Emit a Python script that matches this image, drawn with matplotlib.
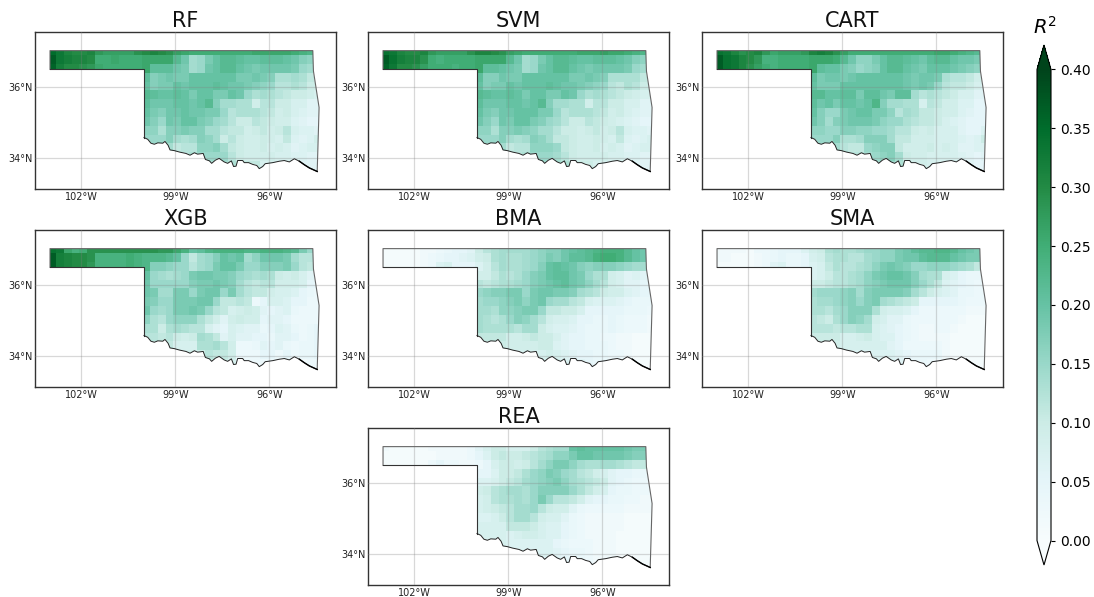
import matplotlib
matplotlib.use("Agg")
import matplotlib.pyplot as plt
import numpy as np
from matplotlib.colorbar import ColorbarBase
from matplotlib.colors import Normalize
from matplotlib.patches import Polygon

# R2 x 100 on a 0.25 degree grid, north to south.
# First three rows span the panhandle (35 cells), the others start at cell 12
rf = [
    [35, 33, 31, 30, 30, 31, 28, 27, 27, 27, 27, 29, 30, 31, 30, 29, 27, 26, 25, 25, 25, 25, 25, 25, 25, 25, 26, 26, 26, 26, 26, 25, 24, 23, 21],
    [37, 33, 32, 31, 31, 30, 25, 25, 26, 25, 25, 25, 26, 26, 26, 26, 22, 19, 14, 15, 18, 20, 22, 22, 21, 20, 20, 21, 21, 21, 20, 19, 17, 16, 15],
    [36, 32, 30, 30, 29, 28, 26, 25, 25, 25, 25, 25, 26, 21, 21, 21, 19, 18, 14, 15, 19, 20, 22, 22, 20, 19, 18, 19, 19, 19, 19, 18, 15, 14, 13],
    [21, 17, 18, 19, 18, 18, 20, 20, 20, 20, 20, 20, 18, 18, 19, 18, 17, 13, 13, 14, 13, 11, 11],
    [20, 17, 18, 18, 20, 19, 20, 20, 20, 21, 20, 19, 19, 18, 17, 16, 15, 12, 12, 13, 12, 10, 10],
    [22, 21, 20, 20, 21, 20, 18, 20, 20, 18, 18, 20, 19, 15, 13, 14, 13, 12, 11, 10, 10, 9, 8],
    [21, 19, 19, 19, 20, 20, 19, 20, 22, 17, 14, 14, 13, 13, 9, 12, 12, 10, 10, 8, 8, 6, 6],
    [20, 18, 17, 19, 19, 20, 19, 19, 18, 18, 15, 12, 13, 13, 13, 12, 11, 9, 10, 8, 7, 6, 6],
    [19, 17, 15, 19, 18, 20, 20, 18, 17, 15, 14, 12, 10, 10, 12, 11, 10, 9, 9, 7, 6, 5, 5],
    [16, 16, 13, 17, 17, 18, 17, 17, 14, 14, 12, 11, 11, 9, 10, 11, 9, 10, 12, 8, 7, 7, 6],
    [15, 15, 15, 17, 14, 13, 14, 17, 16, 14, 10, 12, 10, 9, 9, 10, 9, 8, 11, 7, 6, 7, 9],
    [15, 14, 14, 14, 11, 12, 12, 16, 16, 17, 14, 11, 10, 9, 9, 10, 8, 9, 8, 6, 7, 8, 8],
    [14, 14, 14, 13, 13, 12, 13, 15, 15, 15, 15, 12, 10, 9, 9, 9, 9, 8, 8, 7, 7, 6, 6],
    [14, 14, 14, 13, 13, 12, 13, 13, 13, 14, 14, 13, 11, 11, 11, 8, 8, 8, 7, 7, 6, 6, 6],
    [14, 14, 14, 13, 13, 12, 13, 13, 13, 14, 14, 13, 11, 11, 11, 8, 8, 8, 7, 7, 6, 6, 6],
]

svm = [
    [34, 33, 31, 30, 30, 31, 28, 27, 27, 27, 27, 29, 31, 31, 30, 29, 27, 26, 25, 25, 25, 25, 25, 25, 25, 26, 26, 26, 27, 26, 26, 25, 24, 23, 21],
    [37, 34, 32, 31, 31, 29, 25, 24, 25, 25, 25, 25, 26, 26, 26, 26, 22, 19, 14, 15, 18, 20, 22, 22, 21, 20, 20, 21, 21, 21, 20, 19, 17, 16, 15],
    [36, 33, 30, 30, 29, 27, 25, 25, 25, 24, 25, 25, 26, 21, 21, 20, 19, 18, 14, 15, 19, 20, 22, 22, 20, 19, 18, 19, 19, 19, 19, 18, 15, 14, 13],
    [21, 17, 17, 19, 18, 18, 20, 20, 20, 20, 20, 20, 18, 18, 19, 18, 17, 13, 13, 13, 13, 11, 11],
    [20, 17, 18, 18, 20, 19, 20, 20, 20, 21, 20, 19, 19, 18, 17, 16, 15, 12, 11, 13, 12, 10, 10],
    [22, 21, 20, 20, 21, 20, 18, 20, 20, 18, 18, 20, 19, 15, 13, 14, 13, 12, 11, 10, 9, 8, 8],
    [21, 19, 19, 19, 20, 20, 19, 20, 22, 17, 14, 14, 13, 13, 9, 12, 12, 10, 10, 8, 8, 6, 6],
    [20, 18, 17, 19, 19, 20, 20, 20, 18, 18, 15, 12, 13, 13, 13, 12, 11, 9, 10, 8, 7, 6, 6],
    [19, 17, 15, 19, 18, 20, 20, 18, 17, 15, 14, 12, 10, 10, 12, 11, 10, 9, 8, 7, 6, 5, 5],
    [16, 16, 13, 17, 17, 18, 17, 16, 14, 14, 12, 10, 10, 9, 10, 11, 9, 10, 12, 8, 7, 7, 6],
    [15, 15, 15, 17, 14, 13, 14, 17, 16, 14, 11, 11, 10, 9, 9, 10, 9, 8, 11, 7, 6, 7, 8],
    [15, 14, 14, 14, 11, 12, 12, 16, 16, 16, 15, 11, 10, 9, 9, 10, 8, 9, 8, 6, 7, 8, 8],
    [14, 14, 14, 13, 13, 12, 13, 15, 15, 15, 14, 12, 10, 9, 9, 9, 9, 8, 8, 7, 7, 6, 6],
    [14, 14, 14, 13, 13, 12, 13, 13, 14, 14, 14, 13, 11, 10, 10, 8, 8, 7, 7, 6, 6, 6, 6],
    [14, 14, 14, 13, 13, 12, 13, 13, 14, 14, 14, 13, 11, 10, 10, 8, 8, 7, 7, 6, 6, 6, 6],
]

cart = [
    [34, 33, 31, 29, 30, 31, 28, 26, 27, 27, 27, 28, 31, 32, 31, 29, 27, 25, 25, 25, 25, 25, 25, 25, 25, 25, 25, 25, 26, 26, 25, 24, 23, 22, 22],
    [37, 34, 33, 31, 30, 28, 24, 24, 25, 25, 25, 25, 26, 26, 26, 25, 22, 19, 16, 16, 18, 20, 22, 22, 21, 20, 19, 21, 22, 22, 20, 19, 19, 18, 17],
    [37, 34, 33, 31, 29, 27, 25, 24, 25, 25, 25, 25, 26, 21, 20, 20, 18, 17, 15, 16, 17, 20, 22, 22, 20, 19, 18, 20, 20, 20, 19, 18, 17, 16, 16],
    [21, 18, 19, 19, 18, 19, 20, 20, 20, 20, 20, 20, 19, 18, 19, 19, 18, 13, 12, 12, 11, 9, 9],
    [20, 18, 18, 18, 20, 20, 20, 20, 20, 20, 20, 20, 19, 18, 19, 18, 15, 12, 11, 11, 10, 8, 7],
    [22, 22, 20, 20, 21, 21, 18, 21, 21, 19, 18, 21, 21, 14, 12, 13, 12, 11, 10, 8, 8, 6, 6],
    [21, 19, 20, 18, 20, 20, 19, 20, 23, 17, 14, 14, 13, 13, 8, 12, 11, 9, 9, 7, 7, 5, 5],
    [20, 17, 15, 15, 18, 19, 20, 20, 18, 18, 16, 12, 14, 13, 11, 11, 10, 9, 9, 7, 6, 5, 5],
    [19, 17, 14, 17, 18, 19, 19, 19, 18, 16, 15, 15, 13, 12, 11, 11, 10, 8, 7, 6, 5, 5, 5],
    [16, 16, 15, 15, 17, 17, 16, 16, 15, 15, 14, 12, 12, 10, 9, 10, 8, 8, 8, 6, 5, 5, 7],
    [15, 15, 15, 17, 13, 13, 14, 17, 17, 17, 14, 11, 11, 9, 9, 9, 8, 8, 8, 7, 6, 7, 10],
    [15, 14, 14, 14, 12, 11, 11, 15, 16, 17, 17, 11, 9, 9, 9, 10, 8, 9, 8, 6, 6, 7, 7],
    [14, 14, 14, 13, 12, 12, 12, 14, 15, 16, 17, 14, 10, 9, 9, 8, 8, 8, 8, 7, 6, 5, 6],
    [14, 14, 14, 13, 12, 12, 12, 13, 14, 15, 15, 13, 11, 9, 9, 8, 8, 7, 7, 6, 6, 5, 5],
    [14, 14, 14, 13, 12, 12, 12, 13, 14, 15, 15, 13, 11, 9, 9, 8, 8, 7, 7, 6, 6, 5, 5],
]

xgb = [
    [34, 33, 26, 24, 25, 29, 29, 29, 29, 29, 29, 29, 29, 29, 28, 28, 26, 24, 20, 21, 23, 24, 24, 24, 24, 23, 23, 24, 24, 24, 23, 22, 18, 15, 15],
    [37, 32, 31, 30, 30, 29, 24, 24, 24, 24, 25, 24, 23, 23, 23, 22, 20, 15, 11, 14, 15, 17, 20, 19, 20, 14, 16, 19, 19, 19, 18, 14, 12, 12, 12],
    [37, 32, 31, 30, 30, 28, 24, 24, 24, 24, 25, 24, 23, 17, 17, 16, 15, 15, 12, 14, 15, 18, 20, 20, 18, 15, 15, 17, 17, 17, 18, 15, 12, 11, 10],
    [20, 15, 14, 13, 14, 15, 18, 19, 19, 18, 18, 17, 15, 14, 13, 14, 13, 10, 9, 10, 8, 6, 6],
    [19, 15, 15, 15, 15, 15, 17, 18, 18, 19, 18, 17, 14, 12, 11, 12, 12, 9, 9, 9, 8, 5, 5],
    [19, 18, 14, 14, 18, 18, 15, 18, 19, 19, 15, 18, 14, 12, 11, 11, 9, 8, 8, 7, 5, 4, 3],
    [18, 17, 15, 15, 18, 18, 18, 19, 19, 15, 11, 11, 12, 11, 3, 5, 8, 8, 7, 5, 5, 3, 3],
    [19, 15, 14, 15, 18, 18, 19, 18, 15, 12, 11, 8, 9, 10, 9, 6, 5, 6, 7, 4, 3, 3, 3],
    [16, 13, 12, 15, 16, 16, 16, 13, 11, 9, 6, 9, 10, 9, 9, 5, 6, 6, 5, 3, 3, 3, 3],
    [13, 13, 10, 13, 14, 13, 12, 12, 8, 6, 5, 8, 7, 6, 6, 4, 5, 7, 6, 4, 3, 4, 5],
    [12, 12, 11, 12, 10, 9, 10, 14, 13, 11, 6, 8, 6, 6, 5, 5, 4, 6, 6, 5, 3, 4, 5],
    [12, 11, 10, 11, 8, 8, 8, 13, 13, 14, 12, 9, 3, 3, 4, 6, 5, 6, 4, 3, 4, 4, 5],
    [10, 10, 10, 10, 9, 9, 9, 10, 12, 11, 11, 9, 3, 3, 3, 5, 5, 3, 5, 3, 4, 4, 5],
    [10, 10, 10, 10, 9, 9, 9, 10, 10, 10, 10, 8, 3, 3, 3, 3, 3, 3, 3, 2, 2, 3, 3],
    [10, 10, 10, 10, 9, 9, 9, 10, 10, 10, 10, 8, 3, 3, 3, 3, 3, 3, 3, 2, 2, 3, 3],
]

bma = [
    [1, 1, 1, 1, 1, 2, 2, 3, 4, 5, 5, 6, 10, 12, 13, 14, 14, 14, 14, 15, 16, 17, 17, 19, 20, 21, 22, 23, 24, 24, 24, 22, 20, 19, 19],
    [1, 1, 1, 1, 1, 2, 3, 4, 5, 5, 6, 7, 9, 10, 13, 14, 13, 13, 14, 15, 16, 18, 17, 19, 21, 21, 22, 24, 25, 25, 24, 22, 20, 19, 19],
    [1, 1, 1, 1, 1, 2, 3, 7, 8, 5, 5, 5, 7, 9, 12, 14, 13, 13, 14, 15, 17, 20, 21, 20, 19, 17, 16, 17, 17, 17, 16, 15, 14, 14, 13],
    [9, 9, 11, 13, 12, 13, 15, 17, 18, 20, 21, 21, 19, 18, 15, 13, 13, 9, 8, 6, 7, 6, 6],
    [12, 11, 12, 13, 13, 14, 15, 17, 18, 19, 20, 21, 19, 18, 16, 14, 12, 9, 8, 6, 6, 5, 5],
    [15, 16, 17, 17, 18, 18, 15, 18, 19, 19, 18, 18, 17, 14, 13, 12, 10, 9, 9, 7, 6, 5, 5],
    [14, 15, 15, 16, 17, 18, 16, 18, 19, 15, 14, 14, 12, 11, 8, 7, 7, 7, 6, 5, 4, 4, 4],
    [14, 14, 13, 16, 16, 17, 18, 18, 15, 11, 11, 10, 10, 8, 5, 5, 5, 5, 5, 4, 4, 4, 3],
    [14, 13, 12, 13, 15, 17, 16, 14, 12, 9, 8, 8, 7, 5, 5, 4, 4, 5, 4, 3, 3, 3, 2],
    [14, 13, 13, 13, 13, 12, 14, 14, 10, 8, 7, 7, 6, 5, 4, 4, 4, 5, 4, 3, 3, 3, 2],
    [11, 11, 11, 11, 9, 9, 10, 11, 10, 10, 8, 6, 5, 5, 4, 4, 3, 3, 2, 2, 1, 1, 1],
    [10, 10, 10, 10, 9, 9, 9, 9, 10, 10, 7, 6, 5, 5, 4, 4, 4, 3, 2, 2, 1, 1, 1],
    [10, 10, 10, 9, 9, 8, 8, 8, 8, 9, 8, 7, 6, 5, 5, 4, 4, 3, 3, 2, 1, 1, 1],
    [9, 9, 9, 9, 8, 8, 8, 8, 8, 8, 8, 7, 7, 6, 5, 4, 4, 3, 2, 2, 1, 1, 1],
    [9, 9, 9, 9, 8, 8, 8, 8, 8, 8, 8, 7, 7, 6, 5, 4, 4, 3, 2, 2, 1, 1, 1],
]

sma = [
    [2, 2, 2, 2, 1, 3, 3, 4, 5, 5, 5, 7, 9, 10, 13, 14, 13, 13, 14, 15, 15, 16, 16, 18, 19, 21, 22, 22, 23, 23, 22, 20, 19, 18, 18],
    [2, 2, 1, 1, 1, 2, 3, 4, 5, 4, 4, 5, 8, 9, 12, 13, 13, 12, 12, 14, 15, 16, 16, 18, 19, 19, 21, 22, 22, 22, 20, 19, 18, 18, 18],
    [1, 1, 1, 1, 1, 2, 3, 6, 7, 4, 4, 5, 7, 8, 11, 13, 12, 12, 13, 14, 16, 18, 19, 18, 17, 15, 15, 16, 16, 16, 15, 14, 13, 11, 11],
    [7, 8, 10, 12, 12, 13, 14, 16, 18, 19, 20, 20, 19, 17, 14, 13, 13, 8, 7, 5, 4, 4, 4],
    [10, 10, 11, 12, 12, 13, 14, 16, 17, 18, 19, 19, 19, 17, 15, 13, 11, 7, 6, 5, 4, 3, 3],
    [14, 15, 15, 15, 16, 17, 14, 17, 18, 18, 18, 18, 17, 14, 12, 10, 8, 7, 6, 4, 4, 3, 3],
    [13, 14, 14, 15, 16, 17, 15, 17, 18, 14, 13, 12, 11, 10, 5, 5, 5, 5, 5, 4, 3, 3, 3],
    [13, 13, 12, 14, 15, 17, 17, 17, 13, 9, 8, 8, 7, 5, 3, 3, 3, 3, 3, 3, 2, 2, 2],
    [12, 11, 10, 13, 15, 17, 16, 14, 9, 8, 6, 6, 4, 3, 3, 3, 3, 3, 3, 2, 1, 1, 1],
    [12, 12, 12, 11, 12, 12, 13, 13, 8, 7, 6, 5, 4, 3, 2, 2, 3, 3, 2, 1, 1, 1, 1],
    [10, 10, 10, 10, 8, 8, 9, 10, 8, 7, 7, 5, 4, 3, 2, 2, 2, 2, 1, 1, 1, 1, 1],
    [9, 9, 9, 9, 8, 8, 8, 8, 8, 8, 6, 5, 3, 3, 3, 3, 3, 2, 1, 1, 1, 1, 1],
    [8, 8, 8, 8, 8, 7, 7, 7, 7, 7, 7, 6, 5, 4, 4, 4, 4, 2, 1, 1, 1, 1, 1],
    [8, 8, 8, 8, 7, 7, 7, 7, 7, 7, 7, 6, 5, 4, 4, 3, 2, 2, 1, 1, 1, 1, 1],
    [8, 8, 8, 8, 7, 7, 7, 7, 7, 7, 7, 6, 5, 4, 4, 3, 2, 2, 1, 1, 1, 1, 1],
]

rea = [
    [2, 1, 1, 1, 1, 1, 2, 2, 2, 2, 2, 3, 6, 8, 10, 10, 8, 8, 8, 10, 12, 13, 14, 14, 20, 21, 20, 20, 20, 20, 20, 19, 18, 18, 17],
    [1, 1, 1, 1, 1, 1, 1, 2, 2, 2, 2, 3, 5, 7, 10, 11, 10, 10, 11, 12, 13, 14, 16, 16, 18, 20, 20, 19, 19, 19, 19, 18, 17, 17, 17],
    [1, 1, 1, 1, 1, 1, 3, 5, 3, 3, 2, 2, 3, 5, 8, 10, 10, 9, 10, 12, 14, 16, 18, 18, 16, 14, 13, 13, 14, 14, 13, 12, 11, 11, 9],
    [5, 5, 7, 10, 10, 11, 13, 15, 16, 18, 17, 15, 14, 12, 11, 9, 8, 6, 5, 5, 4, 4, 3],
    [7, 7, 8, 10, 11, 12, 14, 15, 16, 17, 18, 16, 14, 13, 12, 11, 10, 6, 5, 4, 3, 3, 3],
    [9, 10, 12, 13, 14, 14, 13, 15, 17, 17, 17, 17, 15, 13, 11, 9, 8, 5, 4, 4, 3, 3, 3],
    [8, 9, 12, 13, 13, 14, 13, 15, 18, 15, 12, 12, 11, 9, 6, 5, 5, 4, 4, 3, 3, 2, 2],
    [8, 9, 10, 11, 12, 14, 14, 15, 12, 10, 9, 9, 6, 4, 3, 3, 3, 3, 3, 2, 2, 2, 2],
    [7, 7, 8, 10, 12, 14, 14, 12, 9, 8, 8, 6, 4, 3, 2, 2, 2, 2, 2, 1, 1, 1, 1],
    [8, 8, 8, 8, 11, 11, 11, 10, 8, 7, 7, 5, 4, 3, 2, 2, 2, 2, 2, 1, 1, 1, 1],
    [8, 8, 8, 8, 7, 8, 9, 9, 8, 7, 7, 5, 4, 3, 2, 2, 2, 2, 1, 1, 1, 1, 1],
    [8, 8, 8, 8, 7, 7, 7, 7, 7, 7, 5, 4, 3, 3, 3, 2, 2, 2, 1, 1, 1, 1, 1],
    [8, 8, 8, 8, 7, 7, 7, 7, 7, 7, 6, 5, 4, 4, 3, 2, 2, 2, 1, 1, 1, 1, 1],
    [6, 6, 6, 6, 6, 6, 6, 6, 6, 6, 6, 5, 4, 4, 3, 2, 2, 2, 1, 1, 1, 1, 1],
    [6, 6, 6, 6, 6, 6, 6, 6, 6, 6, 6, 5, 4, 4, 3, 2, 2, 2, 1, 1, 1, 1, 1],
]

# State outline, clockwise from the panhandle corner
north_lon = [-103.0, -103.0, -94.61, -94.59, -94.41, -94.47]
north_lat = [36.5, 37.03, 37.03, 36.45, 35.42, 33.61]
south_lon = [-94.47, -94.72, -94.88, -95.04, -95.20, -95.36, -95.52, -95.68, -95.89, -96.13, -96.21, -96.32, -96.40,
             -96.53, -96.66, -96.80, -96.85, -97.01, -97.06, -97.14, -97.21, -97.33, -97.44, -97.60, -97.72, -97.84,
             -97.91, -98.04, -98.11, -98.29, -98.39, -98.53, -98.66, -98.87, -99.03, -99.17, -99.23, -99.33, -99.40,
             -99.56, -99.67, -99.78, -99.88, -100.0]
south_lat = [33.61, 33.71, 33.80, 33.90, 33.97, 33.88, 33.92, 33.90, 33.86, 33.83, 33.75, 33.69, 33.78,
             33.81, 33.86, 33.86, 33.92, 33.92, 33.76, 33.75, 33.91, 33.84, 33.88, 33.98, 33.93, 33.84,
             33.91, 33.95, 34.12, 34.10, 34.14, 34.07, 34.12, 34.16, 34.20, 34.22, 34.35, 34.46, 34.41,
             34.42, 34.38, 34.41, 34.52, 34.57]
west_lon = [-100.0, -100.0, -103.0]
west_lat = [34.57, 36.5, 36.5]

titles = ["RF", "SVM", "CART", "XGB", "BMA", "SMA", "REA"]
panels = [rf, svm, cart, xgb, bma, sma, rea]
# left and top of every panel, in pixels
panel_pos = [(35, 32), (368, 32), (702, 32), (35, 230), (368, 230), (702, 230), (368, 428)]
lon_ticks = [-102, -99, -96]
lon_labels = ["102°W", "99°W", "96°W"]
lat_ticks = [34, 36]
lat_labels = ["34°N", "36°N"]
cbar_ticks = [0.0, 0.05, 0.10, 0.15, 0.20, 0.25, 0.30, 0.35, 0.40]

W, H = 1094, 597
lon_edges = -103.06 + 0.25 * np.arange(36)
lat_edges = 37.155 - 0.25 * np.arange(16)


def to_grid(rows):
    grid = np.full((15, 35), np.nan)
    for i, row in enumerate(rows):
        grid[i, 35 - len(row):] = row
    return grid / 100.0


cmap = plt.get_cmap("BuGn").copy()
norm = Normalize(vmin=0, vmax=0.4)
fig = plt.figure(figsize=(W / 100, H / 100), dpi=100)

outline = list(zip(north_lon + south_lon[1:] + west_lon[1:], north_lat + south_lat[1:] + west_lat[1:]))

for title, rows, (left, top) in zip(titles, panels, panel_pos):
    ax = fig.add_axes([left / W, 1 - (top + 157) / H, 301 / W, 157 / H])
    mesh = ax.pcolormesh(lon_edges, lat_edges, to_grid(rows), cmap=cmap, norm=norm, shading="flat", zorder=1)
    # only the cells inside the state are shown
    clip = Polygon(outline, closed=True, transform=ax.transData)
    mesh.set_clip_path(clip)

    ax.plot(north_lon, north_lat, color="#666666", lw=0.8, zorder=3)
    ax.plot(west_lon, west_lat, color="#333333", lw=0.8, zorder=3)
    ax.plot(south_lon, south_lat, color="#222222", lw=0.7, zorder=3)
    ax.plot(south_lon[:4], south_lat[:4], color="black", lw=1.0, zorder=3)

    ax.set_xlim(-103.48, -93.87)
    ax.set_ylim(33.114, 37.557)
    ax.set_xticks(lon_ticks)
    ax.set_xticklabels(lon_labels)
    ax.set_yticks(lat_ticks)
    ax.set_yticklabels(lat_labels)
    ax.tick_params(length=0, labelsize=7, pad=2, colors="#222222")
    ax.grid(True, color="gray", alpha=0.3, lw=0.9, zorder=2)
    ax.set_axisbelow(False)
    for spine in ax.spines.values():
        spine.set_color("#333333")
        spine.set_linewidth(1.0)
    ax.set_title(title, fontsize=15, pad=3.5, color="#111111")

# the axes include the two pointed ends of the bar
cax = fig.add_axes([1037 / W, 1 - 565 / H, 14 / W, 520 / H])
cb = ColorbarBase(cax, cmap=cmap, norm=norm, extend="both", extendfrac=0.052, ticks=cbar_ticks)
cb.ax.set_yticklabels(["%.2f" % t for t in cbar_ticks])
cb.ax.tick_params(labelsize=10, length=3, width=0.8)
cb.outline.set_linewidth(0.8)
fig.text(1045 / W, 1 - 27 / H, r"$R^2$", fontsize=14, ha="center", va="center")

fig.savefig("out.png", dpi=100)
